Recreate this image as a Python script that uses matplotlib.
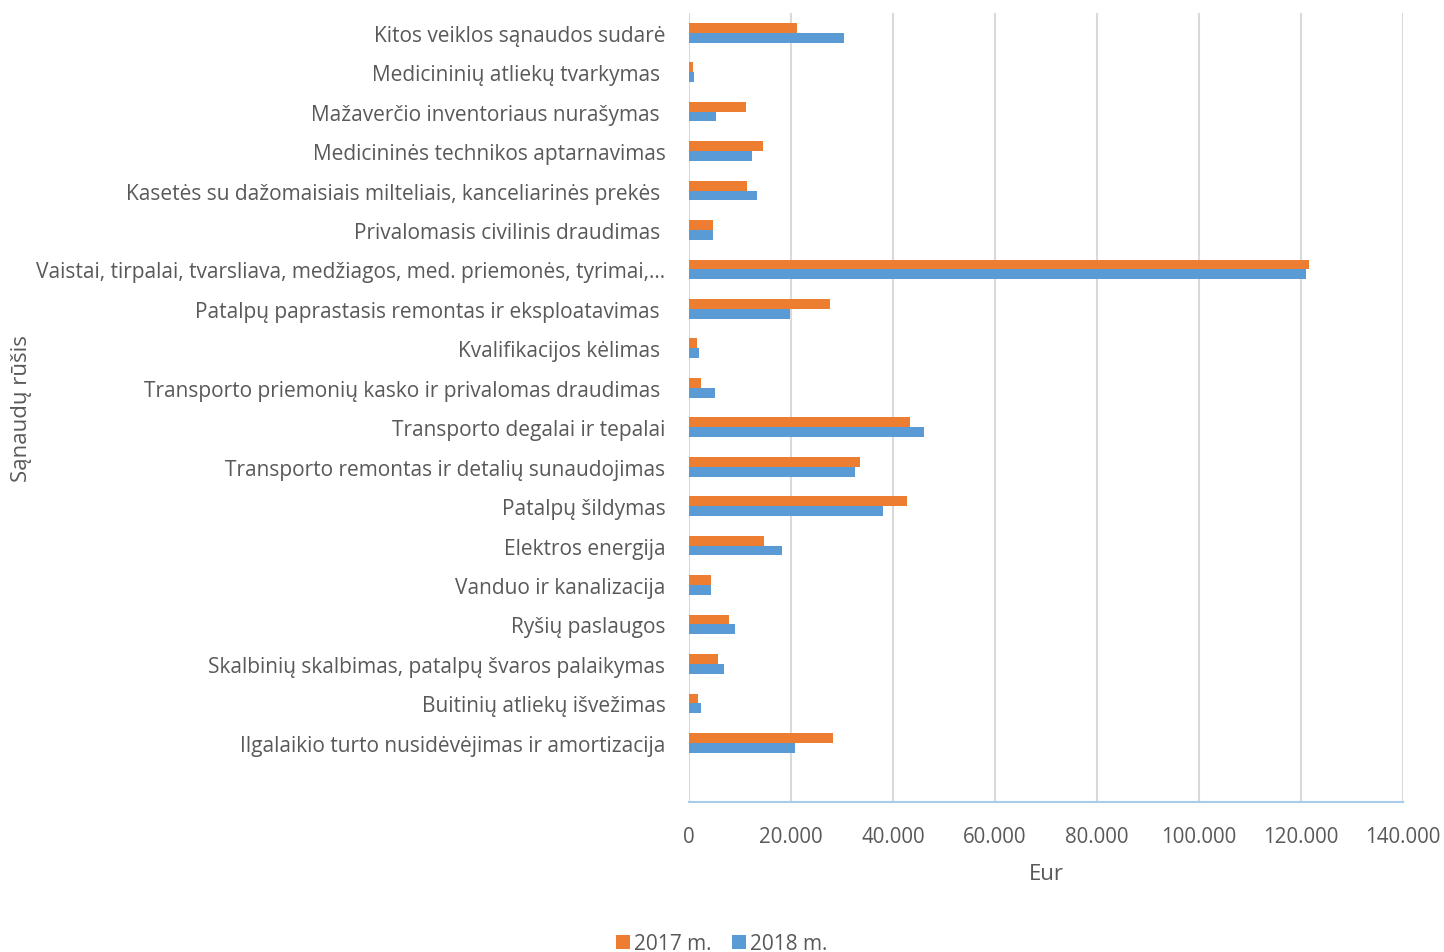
import numpy as np
import matplotlib.pyplot as plt
from matplotlib.ticker import FuncFormatter

plt.rcParams['font.family'] = ['Open Sans', 'DejaVu Sans']

# Categories (top to bottom as shown)
categories = [
    "Kitos veiklos sąnaudos sudarė",
    "Medicininių atliekų tvarkymas ",
    "Mažaverčio inventoriaus nurašymas ",
    "Medicininės technikos aptarnavimas",
    "Kasetės su dažomaisiais milteliais, kanceliarinės prekės ",
    "Privalomasis civilinis draudimas ",
    "Vaistai, tirpalai, tvarsliava, medžiagos, med. priemonės, tyrimai,…",
    "Patalpų paprastasis remontas ir eksploatavimas ",
    "Kvalifikacijos kėlimas ",
    "Transporto priemonių kasko ir privalomas draudimas ",
    "Transporto degalai ir tepalai",
    "Transporto remontas ir detalių sunaudojimas",
    "Patalpų šildymas",
    "Elektros energija",
    "Vanduo ir kanalizacija",
    "Ryšių paslaugos",
    "Skalbinių skalbimas, patalpų švaros palaikymas",
    "Buitinių atliekų išvežimas",
    "Ilgalaikio turto nusidėvėjimas ir amortizacija",
]

# Values in Eur
values_2017 = [21200, 800, 11200, 14600, 11300, 4700, 121600, 27600, 1600, 2300,
               43300, 33600, 42700, 14700, 4300, 7800, 5600, 1800, 28200]
values_2018 = [30300, 1000, 5200, 12400, 13300, 4700, 121000, 19900, 2000, 5000,
               46100, 32600, 38100, 18200, 4300, 9100, 6900, 2300, 20800]

orange = '#ED7D31'
blue = '#5B9BD5'
text_col = '#595959'

fig = plt.figure(figsize=(14.44, 9.53), dpi=100)
ax = fig.add_axes([689 / 1444, 1 - 803 / 953, (1403 - 689) / 1444, (803 - 14) / 953])

y = np.arange(len(categories))
h = 0.25
ax.barh(y - h / 2, values_2017, height=h, color=orange, label='2017 m.', zorder=3)
ax.barh(y + h / 2, values_2018, height=h, color=blue, label='2018 m.', zorder=3)

ax.set_ylim(len(categories) + 0.5, -0.5)
ax.set_xlim(0, 140000)
ax.set_xticks(np.arange(0, 140001, 20000))
ax.xaxis.set_major_formatter(FuncFormatter(lambda v, p: f"{int(v):,}".replace(',', '.')))
ax.set_yticks(y)
ax.set_yticklabels(categories)

ax.grid(axis='x', color='#D9D9D9', linewidth=1.5, zorder=0)
for s in ['top', 'right', 'left']:
    ax.spines[s].set_visible(False)
ax.spines['bottom'].set_color('#A9CBEA')
ax.spines['bottom'].set_linewidth(1.5)

ax.tick_params(axis='y', length=0, pad=17, labelsize=15, labelcolor=text_col)
ax.tick_params(axis='x', length=0, pad=17, labelsize=14.8, labelcolor=text_col)

ax.set_xlabel('Eur', fontsize=16, color=text_col, labelpad=12)
fig.text(22 / 1444, 1 - 409 / 953, 'Sąnaudų rūšis', rotation=90, ha='center', va='center',
         fontsize=16, color=text_col)

fig.legend(loc='center', bbox_to_anchor=(722 / 1444, 1 - 945 / 953), ncol=2, frameon=False,
           fontsize=15, handlelength=0.65, handleheight=0.65, handletextpad=0.2,
           columnspacing=1.0, labelcolor=text_col)

fig.savefig('out.png', dpi=100)
